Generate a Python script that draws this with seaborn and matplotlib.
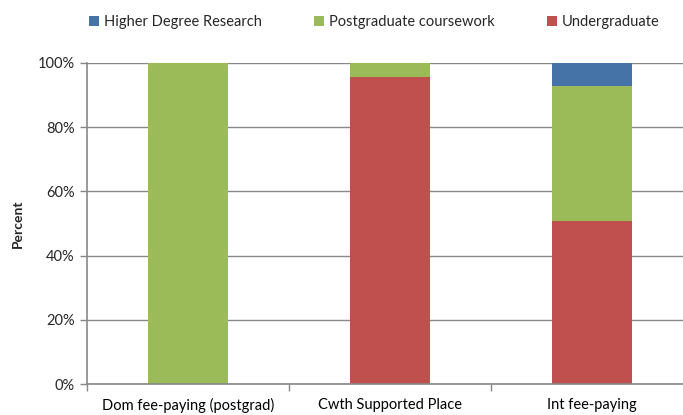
import matplotlib
matplotlib.use("Agg")
import matplotlib.pyplot as plt
import seaborn as sns
import pandas as pd
import numpy as np
from matplotlib.ticker import FuncFormatter, FixedLocator
from matplotlib.patches import Patch

categories = ["Dom fee-paying (postgrad)", "Cwth Supported Place", "Int fee-paying"]
undergraduate = [0.0, 95.7, 50.9]
postgrad_coursework = [100.0, 4.3, 42.0]
higher_degree_research = [0.0, 0.0, 7.1]

series_names = ["Higher Degree Research", "Postgraduate coursework", "Undergraduate"]
colors = {"Higher Degree Research": "#4573A7", "Postgraduate coursework": "#9BBB59", "Undergraduate": "#C0504D"}

sns.set_style("white")
plt.rcParams["font.family"] = ["Lato", "DejaVu Sans"]

df = pd.DataFrame({
    "cat": categories,
    "ug": undergraduate,
    "pg": postgrad_coursework,
    "hdr": higher_degree_research,
})
df["cum_ug"] = df["ug"]
df["cum_pg"] = df["ug"] + df["pg"]
df["cum_hdr"] = df["cum_pg"] + df["hdr"]

fig = plt.figure(figsize=(6.83, 4.15), dpi=100)
ax = fig.add_axes([87 / 683, (415 - 384) / 415, (693 - 87) / 683, (384 - 63) / 415])

for col, name in [("cum_hdr", "Higher Degree Research"), ("cum_pg", "Postgraduate coursework"), ("cum_ug", "Undergraduate")]:
    sns.barplot(data=df, x="cat", y=col, order=categories, color=colors[name],
                width=0.4, linewidth=0, saturation=1, ax=ax, zorder=3)

ax.set_xlim(-0.5, 2.5)
ax.set_ylim(0, 100)
ax.set_yticks([0, 20, 40, 60, 80, 100])
ax.yaxis.set_major_formatter(FuncFormatter(lambda v, p: f"{int(v)}%"))
ax.grid(axis="y", color="#878787", linewidth=1, zorder=0)
ax.grid(axis="x", visible=False)

ax.set_xticks([0, 1, 2])
ax.set_xticklabels(categories)
ax.xaxis.set_minor_locator(FixedLocator([-0.5, 0.5, 1.5, 2.5]))
ax.tick_params(axis="x", which="major", length=0, pad=10, labelsize=10.5, colors="black")
ax.tick_params(axis="x", which="minor", length=5, width=1, color="#878787", direction="out", bottom=True)
ax.tick_params(axis="y", length=5, width=1, color="#878787", direction="out", left=True, labelsize=10.5, pad=4)

for s in ["top", "right"]:
    ax.spines[s].set_visible(False)
for s in ["left", "bottom"]:
    ax.spines[s].set_color("#878787")
    ax.spines[s].set_linewidth(1.2)
    ax.spines[s].set_zorder(4)

ax.set_xlabel("")
ax.set_ylabel("Percent", fontweight="bold", fontsize=10, labelpad=10)

handles = [Patch(facecolor=colors[n], edgecolor="none", label=n) for n in series_names]
fig.legend(handles=handles, loc="center", bbox_to_anchor=(0.548, 1 - 22 / 415),
           ncol=3, frameon=False, fontsize=10.5, handlelength=0.7, handleheight=0.7,
           handletextpad=0.3, columnspacing=3.6)

fig.savefig("out.png", dpi=100)
